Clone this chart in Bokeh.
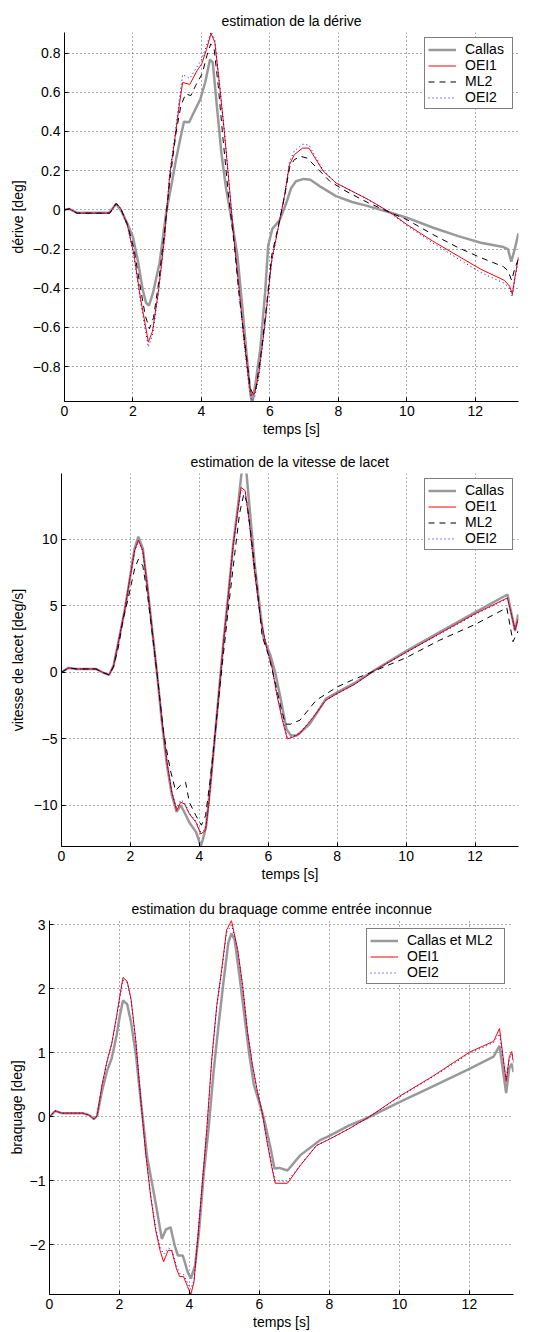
from bokeh.plotting import figure
from bokeh.layouts import column, row
from bokeh.models import Range1d, FixedTicker, Legend, LegendItem
from bokeh.embed import file_html
from bokeh.resources import INLINE

FONT = "Liberation Sans"

# ---------------- data ----------------
x_ticks = [0, 2, 4, 6, 8, 10, 12]

# plot 1 : dérive [deg]
t1_callas = [0, 0.14, 0.37, 1.3, 1.51, 1.65, 1.84, 2.0, 2.15, 2.28,
             2.38, 2.47, 2.59, 2.78, 2.97, 3.12, 3.26, 3.38, 3.49, 3.64,
             3.78, 3.97, 4.11, 4.25, 4.33, 4.44, 4.58, 4.72, 4.91, 5.05,
             5.19, 5.34, 5.43, 5.48, 5.57, 5.72, 5.86, 5.95, 6.07, 6.28,
             6.48, 6.62, 6.76, 6.99, 7.18, 7.46, 7.93, 8.40, 8.87, 9.53,
             10.0, 10.75, 11.5, 12.16, 12.82, 12.95, 13.05, 13.15, 13.26]
y1_callas = [0, 0.005, -0.015, -0.015, 0.03, -0.003, -0.071, -0.14, -0.267, -0.403,
             -0.474, -0.488, -0.42, -0.267, -0.012, 0.124, 0.26, 0.362, 0.45, 0.447,
             0.498, 0.566, 0.651, 0.767, 0.753, 0.549, 0.294, 0.107, -0.08, -0.233,
             -0.488, -0.777, -0.939, -0.99, -0.896, -0.709, -0.42, -0.182, -0.097, -0.054,
             0.036, 0.112, 0.146, 0.158, 0.154, 0.12, 0.07, 0.04, 0.019, -0.015,
             -0.04, -0.09, -0.134, -0.168, -0.19, -0.2, -0.265, -0.2, -0.12]

t1_oei1 = [0, 0.14, 0.37, 1.32, 1.51, 1.65, 1.84, 2.03, 2.22, 2.45,
           2.57, 2.74, 2.93, 3.07, 3.21, 3.35, 3.45, 3.66, 3.87, 4.01,
           4.15, 4.28, 4.39, 4.53, 4.67, 4.82, 4.96, 5.10, 5.24, 5.39,
           5.46, 5.55, 5.67, 5.86, 6.05, 6.24, 6.43, 6.57, 6.71, 6.95,
           7.14, 7.32, 7.56, 7.93, 8.40, 8.87, 9.53, 10.0, 10.75, 11.5,
           12.16, 12.85, 13.0, 13.08, 13.15, 13.26]
y1_oei1 = [0, 0.005, -0.017, -0.017, 0.034, 0.005, -0.08, -0.23, -0.45, -0.675,
           -0.62, -0.42, -0.13, 0.175, 0.345, 0.53, 0.65, 0.64, 0.71, 0.745,
           0.82, 0.9, 0.855, 0.634, 0.396, 0.107, -0.165, -0.403, -0.658, -0.879,
           -0.947, -0.939, -0.845, -0.573, -0.26, -0.093, 0.075, 0.23, 0.281, 0.315,
           0.315, 0.264, 0.197, 0.137, 0.095, 0.053, -0.015, -0.075, -0.159, -0.236,
           -0.303, -0.36, -0.39, -0.43, -0.35, -0.24]

t1_ml2 = [0, 0.14, 0.37, 1.32, 1.51, 1.65, 1.84, 2.03, 2.2, 2.36,
          2.48, 2.6, 2.75, 2.93, 3.07, 3.26, 3.4, 3.54, 3.69, 3.83,
          4.02, 4.16, 4.27, 4.37, 4.49, 4.63, 4.78, 4.96, 5.10, 5.29,
          5.43, 5.51, 5.59, 5.76, 5.91, 6.05, 6.24, 6.43, 6.57, 6.71,
          6.90, 7.09, 7.37, 7.75, 8.22, 8.87, 9.53, 10.0, 10.75, 11.5,
          12.16, 12.82, 12.95, 13.06, 13.15, 13.26]
y1_ml2 = [0, 0.005, -0.017, -0.017, 0.032, 0.003, -0.075, -0.2, -0.38, -0.54,
          -0.607, -0.55, -0.37, -0.097, 0.141, 0.396, 0.532, 0.592, 0.583, 0.634,
          0.694, 0.787, 0.847, 0.821, 0.634, 0.362, 0.09, -0.182, -0.437, -0.709,
          -0.913, -0.939, -0.913, -0.709, -0.471, -0.233, -0.088, 0.07, 0.214, 0.256,
          0.273, 0.264, 0.214, 0.146, 0.095, 0.036, -0.015, -0.05, -0.125, -0.193,
          -0.244, -0.29, -0.31, -0.36, -0.3, -0.25]

t1_oei2 = list(t1_oei1)
y1_oei2 = [0, 0.005, -0.017, -0.017, 0.035, 0.005, -0.085, -0.24, -0.47, -0.70,
           -0.64, -0.43, -0.13, 0.18, 0.36, 0.56, 0.69, 0.67, 0.73, 0.77,
           0.84, 0.91, 0.87, 0.64, 0.40, 0.107, -0.17, -0.41, -0.67, -0.9,
           -0.975, -0.96, -0.86, -0.58, -0.27, -0.095, 0.08, 0.245, 0.30, 0.335,
           0.33, 0.275, 0.2, 0.138, 0.095, 0.052, -0.017, -0.08, -0.168, -0.25,
           -0.32, -0.375, -0.4, -0.445, -0.36, -0.25]

y1_ticks = [-0.8, -0.6, -0.4, -0.2, 0, 0.2, 0.4, 0.6, 0.8]
y1_labels = ["\u22120.8", "\u22120.6", "\u22120.4", "\u22120.2", "0", "0.2", "0.4", "0.6", "0.8"]

# plot 2 : vitesse de lacet [deg/s]
t2_callas = [0, 0.2, 0.44, 1.0, 1.19, 1.38, 1.51, 1.65, 1.84, 1.98,
             2.12, 2.23, 2.36, 2.5, 2.64, 2.78, 2.92, 3.06, 3.20, 3.34,
             3.46, 3.58, 3.71, 3.9, 3.97, 4.04, 4.12, 4.2, 4.28, 4.42,
             4.56, 4.70, 4.84, 4.98, 5.12, 5.22, 5.3, 5.37, 5.47, 5.61,
             5.78, 5.87, 6.06, 6.2, 6.34, 6.53, 6.66, 6.83, 7.2, 7.67,
             8.0, 8.51, 9.08, 10.0, 10.96, 12.0, 12.94, 13.16, 13.25]
y2_callas = [0, 0.33, 0.25, 0.25, 0, -0.2, 0.5, 2.26, 4.76, 7.0,
             9.3, 10.2, 9.3, 6.3, 3.0, -0.3, -3.9, -7.0, -9.2, -10.5,
             -10.0, -10.6, -11.3, -12.0, -12.5, -13.1, -12.4, -11.5, -9.5, -5.7,
             -1.7, 2.3, 5.8, 9.6, 12.5, 14.9, 15.4, 14.9, 12.0, 8.0,
             4.3, 2.5, 1.3, 0.0, -1.75, -4.3, -4.76, -4.75, -3.9, -2.0,
             -1.5, -0.8, 0.15, 1.6, 3.0, 4.5, 5.85, 3.1, 4.35]

t2_oei1 = [0, 0.2, 0.44, 1.0, 1.19, 1.38, 1.51, 1.65, 1.84, 1.98,
           2.12, 2.23, 2.36, 2.5, 2.64, 2.78, 2.92, 3.06, 3.20, 3.34,
           3.46, 3.57, 3.71, 3.90, 4.04, 4.18, 4.28, 4.42, 4.56, 4.70,
           4.84, 4.98, 5.12, 5.21, 5.33, 5.45, 5.59, 5.78, 5.96, 6.10,
           6.25, 6.40, 6.55, 6.70, 6.92, 7.30, 7.67, 8.0, 8.51, 9.08,
           10.0, 10.96, 12.0, 12.94, 13.16, 13.25]
y2_oei1 = [0, 0.33, 0.25, 0.25, 0, -0.2, 0.5, 2.26, 4.76, 7.0,
           9.15, 9.95, 9.15, 6.27, 3.0, -0.25, -3.76, -6.77, -9.02, -10.4,
           -9.77, -9.9, -10.65, -11.28, -12.16, -11.9, -9.77, -5.76, -1.75, 2.26,
           5.76, 9.52, 12.28, 13.9, 13.66, 11.28, 7.77, 4.0, 1.75, 0.5,
           -1.7, -3.5, -5.0, -4.9, -4.6, -3.4, -2.1, -1.6, -0.9, 0.13,
           1.5, 2.9, 4.4, 5.6, 3.2, 4.0]

t2_ml2 = [0, 0.2, 0.44, 1.0, 1.19, 1.38, 1.51, 1.65, 1.79, 1.93,
          2.12, 2.23, 2.36, 2.5, 2.64, 2.78, 2.96, 3.15, 3.31, 3.45,
          3.6, 3.71, 3.90, 4.06, 4.18, 4.32, 4.46, 4.65, 4.84, 5.03,
          5.17, 5.29, 5.38, 5.50, 5.65, 5.82, 6.01, 6.2, 6.38, 6.5,
          6.64, 6.92, 7.39, 8.0, 8.42, 9.08, 10.0, 10.96, 12.0, 12.92,
          13.1, 13.25]
y2_ml2 = [0, 0.33, 0.25, 0.25, 0, -0.2, 0.4, 1.9, 4.0, 5.5,
          7.77, 8.5, 8.0, 5.76, 2.76, -0.25, -4.5, -7.27, -8.9, -8.5,
          -8.27, -9.77, -10.78, -11.5, -10.78, -8.0, -4.5, 0.25, 4.76, 9.0,
          12.0, 13.4, 12.78, 10.28, 7.0, 2.76, 1.25, -0.75, -2.8, -3.9,
          -3.9, -3.6, -2.1, -1.1, -0.6, 0.1, 1.1, 2.4, 3.6, 4.85,
          2.3, 3.1]

t2_oei2 = list(t2_oei1)
y2_oei2 = [0, 0.33, 0.25, 0.25, 0, -0.2, 0.5, 2.3, 4.8, 7.0,
           9.1, 9.85, 9.1, 6.3, 3.0, -0.25, -3.7, -6.7, -9.0, -10.2,
           -9.6, -9.8, -10.6, -11.2, -12.0, -11.8, -9.6, -5.7, -1.7, 2.3,
           5.8, 9.5, 12.2, 13.7, 13.5, 11.2, 7.8, 4.0, 1.8, 0.5,
           -1.7, -3.4, -4.9, -4.85, -4.55, -3.35, -2.1, -1.6, -0.9, 0.13,
           1.5, 2.85, 4.35, 5.55, 3.2, 4.0]

y2_ticks = [-10, -5, 0, 5, 10]
y2_labels = ["\u221210", "\u22125", "0", "5", "10"]

# plot 3 : braquage [deg]
t3_callas = [0, 0.16, 0.35, 0.95, 1.13, 1.27, 1.36, 1.5, 1.64, 1.78,
             1.92, 2.01, 2.10, 2.22, 2.33, 2.47, 2.61, 2.79, 2.93, 3.05,
             3.21, 3.33, 3.46, 3.58, 3.67, 3.81, 3.95, 4.04, 4.16, 4.27,
             4.41, 4.55, 4.69, 4.83, 4.97, 5.11, 5.2, 5.29, 5.43, 5.57,
             5.71, 5.84, 5.98, 6.12, 6.31, 6.43, 6.57, 6.8, 7.17, 7.72,
             8.0, 8.55, 9.1, 10.0, 10.94, 12.0, 12.69, 12.86, 13.05, 13.14,
             13.21, 13.26]
y3_callas = [0, 0.09, 0.057, 0.057, 0.026, -0.036, 0.015, 0.40, 0.71, 0.92,
             1.28, 1.58, 1.82, 1.76, 1.48, 0.97, 0.25, -0.63, -1.04, -1.40,
             -1.91, -1.76, -1.73, -2.02, -2.17, -2.17, -2.43, -2.53, -2.33, -1.81,
             -0.88, -0.16, 0.71, 1.43, 2.10, 2.72, 2.87, 2.77, 2.20, 1.58,
             0.97, 0.50, 0.25, -0.01, -0.47, -0.81, -0.8, -0.84, -0.6, -0.37,
             -0.3, -0.14, -0.015, 0.23, 0.47, 0.75, 0.94, 1.11, 0.37, 0.76,
             0.83, 0.7]

t3_oei1 = [0, 0.16, 0.35, 0.95, 1.13, 1.27, 1.36, 1.5, 1.64, 1.78,
           1.92, 2.01, 2.10, 2.22, 2.33, 2.47, 2.61, 2.75, 2.89, 3.03,
           3.16, 3.26, 3.39, 3.49, 3.63, 3.72, 3.83, 3.95, 4.04, 4.13,
           4.22, 4.36, 4.50, 4.64, 4.78, 4.92, 5.06, 5.2, 5.29, 5.38,
           5.52, 5.66, 5.80, 5.94, 6.07, 6.21, 6.35, 6.45, 6.8, 7.17,
           7.63, 8.0, 8.55, 9.1, 10.0, 10.94, 12.0, 12.69, 12.86, 13.05,
           13.14, 13.21, 13.26]
y3_oei1 = [0, 0.093, 0.057, 0.057, 0.026, -0.036, 0.015, 0.50, 0.86, 1.15,
           1.58, 1.89, 2.18, 2.12, 1.84, 1.17, 0.25, -0.58, -1.24, -1.76,
           -2.09, -2.27, -2.09, -2.09, -2.38, -2.5, -2.5, -2.66, -2.78, -2.58,
           -2.02, -1.09, -0.16, 0.92, 1.74, 2.30, 2.92, 3.07, 2.84, 2.61,
           2.05, 1.33, 0.81, 0.40, 0.09, -0.37, -0.78, -1.04, -1.04, -0.76,
           -0.45, -0.35, -0.19, -0.015, 0.32, 0.63, 1.01, 1.18, 1.38, 0.55,
           0.94, 1.02, 0.86]

t3_oei2 = list(t3_oei1)
y3_oei2 = [0, 0.09, 0.057, 0.057, 0.026, -0.036, 0.015, 0.49, 0.85, 1.14,
           1.56, 1.86, 2.14, 2.1, 1.83, 1.17, 0.25, -0.57, -1.22, -1.73,
           -2.04, -2.15, -2.05, -2.08, -2.33, -2.45, -2.47, -2.6, -2.7, -2.55,
           -2.0, -1.08, -0.16, 0.91, 1.72, 2.27, 2.88, 3.0, 2.82, 2.6,
           2.04, 1.33, 0.8, 0.4, 0.09, -0.36, -0.75, -1.0, -1.01, -0.75,
           -0.45, -0.35, -0.19, -0.015, 0.31, 0.62, 0.99, 1.16, 1.3, 0.58,
           0.9, 0.98, 0.84]

y3_ticks = [-2, -1, 0, 1, 2, 3]
y3_labels = ["\u22122", "\u22121", "0", "1", "2", "3"]

# ---------------- styling helpers ----------------
GRAY = "#999999"
XR = (0, 13.26)


def make_fig(title, ylabel, yr, yticks, ylabels, borders, ylab_standoff, title_left):
    left, right, top, bottom = borders
    p = figure(width=540, height=444, x_range=Range1d(*XR), y_range=Range1d(*yr),
               output_backend="svg", toolbar_location=None,
               min_border_left=left, min_border_right=right,
               min_border_top=top, min_border_bottom=bottom)
    p.title.text = title
    p.title.align = "left"
    p.title.offset = title_left
    p.title.text_font = FONT
    p.title.text_font_size = "14px"
    p.title.text_font_style = "normal"
    p.title.text_color = "black"
    p.title.standoff = 8
    p.outline_line_color = None
    p.xaxis.axis_label = "temps [s]"
    p.yaxis.axis_label = ylabel
    p.xaxis.ticker = FixedTicker(ticks=x_ticks)
    p.yaxis.ticker = FixedTicker(ticks=yticks)
    p.yaxis.major_label_overrides = dict(zip(yticks, ylabels))
    for ax in (p.xaxis[0], p.yaxis[0]):
        ax.major_label_text_font = FONT
        ax.major_label_text_font_size = "14px"
        ax.major_label_text_color = "black"
        ax.axis_label_text_font = FONT
        ax.axis_label_text_font_size = "14px"
        ax.axis_label_text_font_style = "normal"
        ax.axis_label_text_color = "black"
        ax.major_tick_in = 4
        ax.major_tick_out = 0
        ax.minor_tick_line_color = None
        ax.axis_line_color = "black"
        ax.major_tick_line_color = "black"
        ax.major_label_standoff = 4
    p.xaxis.axis_label_standoff = 2
    p.yaxis.axis_label_standoff = ylab_standoff
    p.grid.grid_line_color = "#555555"
    p.grid.grid_line_dash = "1 3"
    p.grid.grid_line_width = 1
    return p


def add_legend(p, items, margin, label_width):
    leg = Legend(items=[LegendItem(label=l, renderers=[r]) for l, r in items],
                 location="top_right")
    leg.label_text_font = FONT
    leg.label_text_font_size = "14px"
    leg.label_text_color = "black"
    leg.label_text_line_height = 1.0
    leg.border_line_color = "black"
    leg.border_line_width = 1.5
    leg.background_fill_color = "white"
    leg.background_fill_alpha = 1
    leg.padding = 3
    leg.spacing = 0
    leg.margin = margin
    leg.glyph_width = 28
    leg.glyph_height = 15
    leg.label_height = 15
    leg.label_width = label_width
    leg.label_standoff = 9
    p.add_layout(leg)


# ---- plot 1
p1 = make_fig("estimation de la d\u00e9rive", "d\u00e9rive [deg]", (-0.978, 0.905),
              y1_ticks, y1_labels, (64, 22, 32, 43), 4, 157)
r1a = p1.line(t1_callas, y1_callas, line_color=GRAY, line_width=2.5)
r1b = p1.line(t1_oei1, y1_oei1, line_color="red", line_width=1)
r1c = p1.line(t1_ml2, y1_ml2, line_color="black", line_width=1, line_dash="6 5")
r1d = p1.line(t1_oei2, y1_oei2, line_color="blue", line_width=1, line_dash="1 3")
add_legend(p1, [("Callas", r1a), ("OEI1", r1b), ("ML2", r1c), ("OEI2", r1d)], 5, 44)

# ---- plot 2
p2 = make_fig("estimation de la vitesse de lacet", "vitesse de lacet [deg/s]", (-13.1, 14.95),
              y2_ticks, y2_labels, (61, 22, 29, 42), 5, 129)
r2a = p2.line(t2_callas, y2_callas, line_color=GRAY, line_width=2.5)
r2b = p2.line(t2_oei1, y2_oei1, line_color="red", line_width=1)
r2c = p2.line(t2_ml2, y2_ml2, line_color="black", line_width=1, line_dash="6 5")
r2d = p2.line(t2_oei2, y2_oei2, line_color="blue", line_width=1, line_dash="1 3")
add_legend(p2, [("Callas", r2a), ("OEI1", r2b), ("ML2", r2c), ("OEI2", r2d)], 5, 44)

# ---- plot 3
p3 = make_fig("estimation du braquage comme entr\u00e9e inconnue", "braquage [deg]", (-2.78, 3.07),
              y3_ticks, y3_labels, (49, 27, 32, 34), 2, 82)
r3a = p3.line(t3_callas, y3_callas, line_color=GRAY, line_width=2.5)
r3b = p3.line(t3_oei1, y3_oei1, line_color="red", line_width=1)
r3d = p3.line(t3_oei2, y3_oei2, line_color="blue", line_width=1, line_dash="1 3")
add_legend(p3, [("Callas et ML2", r3a), ("OEI1", r3b), ("OEI2", r3d)], 8, 94)

# each plot wrapped in its own row so frames are not forced into alignment
layout = column(row(p1), row(p2), row(p3), spacing=0)
open("out.html", "w").write(file_html(layout, INLINE))
